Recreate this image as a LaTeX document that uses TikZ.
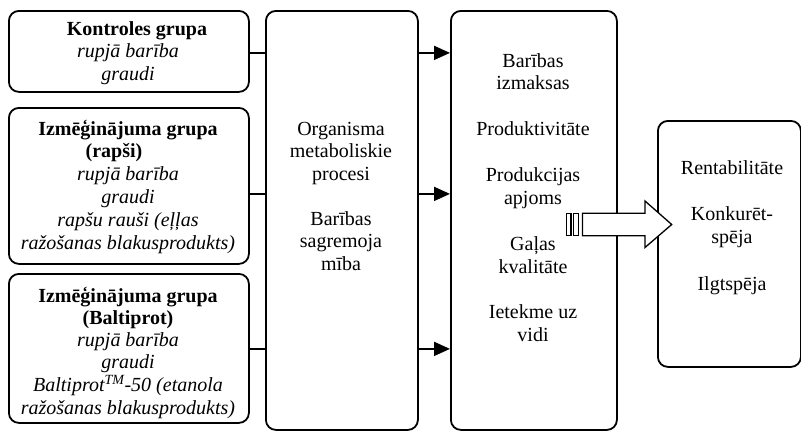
\documentclass[tikz,border=0pt]{standalone}
\usepackage{fontspec}
\setmainfont{Liberation Serif}
\usetikzlibrary{arrows.meta}

% centred block of lines, baseline at the first line
\newcommand\linesblock[2][22.8]{{\fontsize{20}{#1}\selectfont\begin{tabular}[t]{@{}c@{}}#2\end{tabular}}}

\begin{document}
\begin{tikzpicture}[x=1pt,y=-1pt,
  box/.style={draw, line width=1.8pt, rounded corners=10pt, anchor=north west, inner sep=0pt},
  txt/.style={inner sep=0pt, anchor=base},
  link/.style={line width=1.8pt},
  arr/.style={line width=1.8pt, -{Triangle[length=16pt,width=14pt]}},
  blockarrow/.style={draw, fill=white, line width=1.3pt}]
\useasboundingbox (0,0) rectangle (801,431);

% input groups
\node[box, minimum width=240pt, minimum height=81pt]  (A) at (8,10)  {};
\node[box, minimum width=240pt, minimum height=156pt] (B) at (8,107) {};
\node[box, minimum width=240pt, minimum height=149pt] (C) at (8,273) {};
% processes, outcomes, results
\node[box, minimum width=152pt, minimum height=419pt] (M) at (265,10) {};
\node[box, minimum width=166pt, minimum height=419pt] (R) at (450,10) {};
\node[box, minimum width=143pt, minimum height=246pt] (F) at (657,120) {};

% texts
\node[txt] (tA) at (128,35) {\linesblock[22.5]{\hspace*{18pt}\textbf{Kontroles grupa}\\ \textit{rupjā barība}\\ \textit{graudi}}};
\node[txt] (tB) at (128,135) {\linesblock[22.8]{\textbf{Izmēģinājuma grupa}\\ \textbf{(rapši)}\hspace*{28pt}\\ \textit{rupjā barība}\\ \textit{graudi}\\ \textit{rapšu rauši (eļļas}\\ \textit{ražošanas blakusprodukts)}}};
\node[txt] (tC) at (128,302) {\linesblock[22.2]{\textbf{Izmēģinājuma grupa}\\ \textbf{(Baltiprot)}\\ \textit{rupjā barība}\\ \textit{graudi}\\ \textit{Baltiprot\textsuperscript{TM}-50 (etanola}\\ \textit{ražošanas blakusprodukts)}}};
\node[txt] (tM) at (341,135) {\linesblock[22.5]{Organisma\\ metaboliskie\\ procesi\\ \\ Barības\\ sagremoja\\ mība}};
\node[txt] (tR) at (533,67) {\linesblock[22.9]{Barības\\ izmaksas\\ \\ Produktivitāte\\ \\ Produkcijas\\ apjoms\\ \\ Gaļas\\ kvalitāte\\ \\ Ietekme uz\\ vidi}};
\node[txt] (tF) at (732,174) {\linesblock[23.2]{Rentabilitāte\\ \\ Konkurēt-\\ spēja\\ \\ Ilgtspēja}};

% connectors
\coordinate (l1) at ([yshift=-1.5pt]A.east);
\coordinate (l2) at ([yshift=-8pt]B.east);
\coordinate (l3) at ([yshift=-0.5pt]C.east);
\draw[link] (l1) -- (l1 -| M.west);
\draw[link] (l2) -- (l2 -| M.west);
\draw[link] (l3) -- (l3 -| M.west);
\draw[arr] (l1 -| M.east) -- (l1 -| R.west);
\draw[arr] (l2 -| M.east) -- (l2 -| R.west);
\draw[arr] (l3 -| M.east) -- (l3 -| R.west);

% striped block arrow from outcomes to results
\draw[blockarrow] (566.7,213.3) rectangle (571,235.7);
\draw[blockarrow] (573.2,213.3) rectangle (578.6,235.7);
\draw[blockarrow] (582.5,213.3) -- (645,213.3) -- (645,201) -- (671.7,224.5)
  -- (645,247.5) -- (645,235.7) -- (582.5,235.7) -- cycle;
\end{tikzpicture}
\end{document}
